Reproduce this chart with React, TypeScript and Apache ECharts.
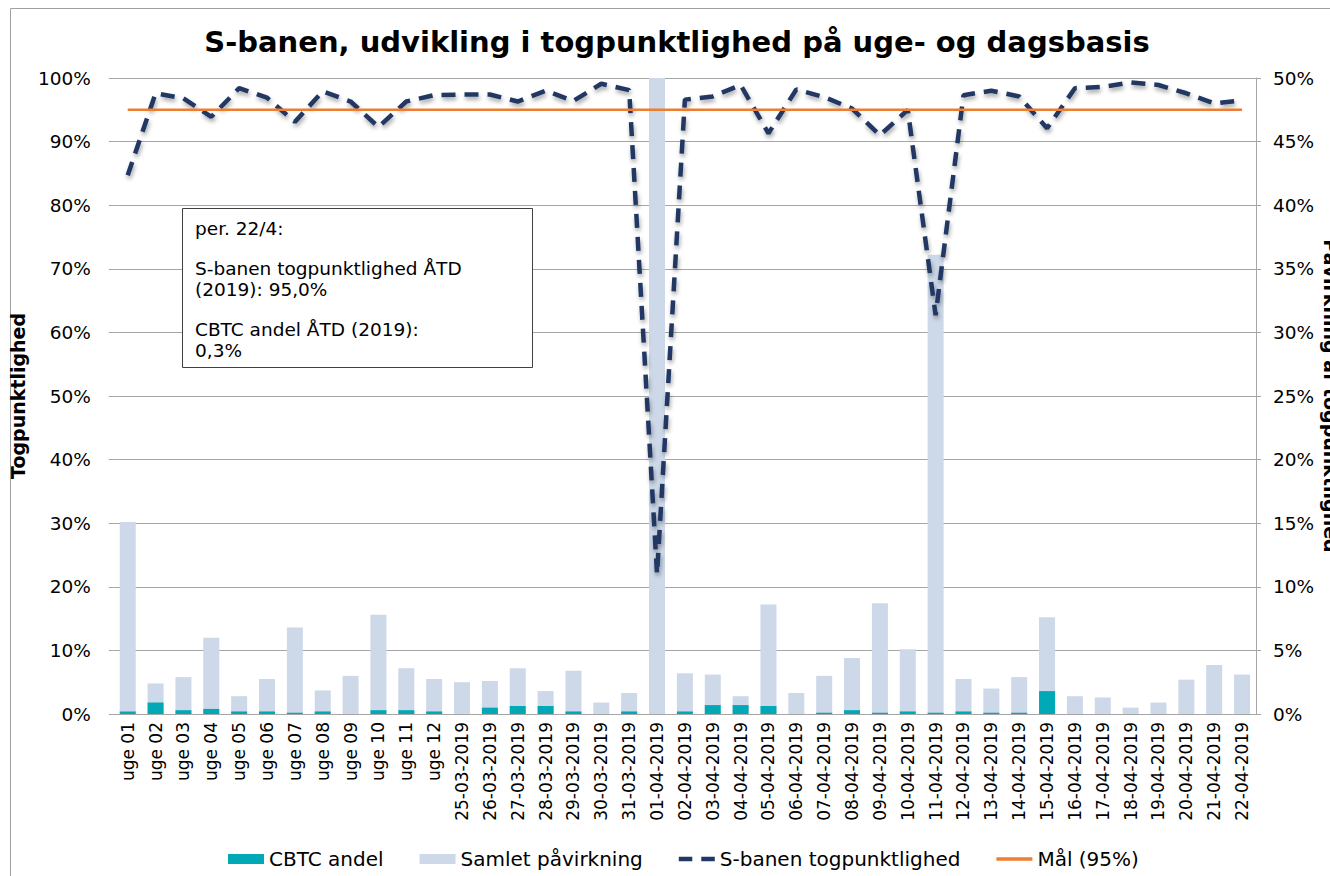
import React, { useEffect, useRef } from "react";
import * as echarts from "echarts";

const categories = [
  "uge 01", "uge 02", "uge 03", "uge 04", "uge 05", "uge 06", "uge 07", "uge 08", "uge 09", "uge 10", "uge 11", "uge 12",
  "25-03-2019", "26-03-2019", "27-03-2019", "28-03-2019", "29-03-2019", "30-03-2019", "31-03-2019",
  "01-04-2019", "02-04-2019", "03-04-2019", "04-04-2019", "05-04-2019", "06-04-2019", "07-04-2019", "08-04-2019",
  "09-04-2019", "10-04-2019", "11-04-2019", "12-04-2019", "13-04-2019", "14-04-2019", "15-04-2019", "16-04-2019",
  "17-04-2019", "18-04-2019", "19-04-2019", "20-04-2019", "21-04-2019", "22-04-2019",
];

// right axis (Påvirkning af togpunktlighed), %
const samletPaavirkning = [
  15.1, 2.4, 2.9, 6.0, 1.4, 2.75, 6.8, 1.85, 3.0, 7.8, 3.6, 2.75,
  2.5, 2.6, 3.6, 1.8, 3.4, 0.9, 1.65,
  50, 3.2, 3.1, 1.4, 8.6, 1.65, 3.0, 4.4, 8.7, 5.1, 36.1, 2.75, 2.0, 2.9, 7.6, 1.4, 1.3, 0.5, 0.9, 2.7, 3.85, 3.1,
];

const cbtcAndel = [
  0.2, 0.9, 0.3, 0.4, 0.2, 0.2, 0.1, 0.2, 0, 0.3, 0.3, 0.2,
  0, 0.5, 0.63, 0.63, 0.2, 0, 0.2,
  0, 0.2, 0.7, 0.7, 0.63, 0, 0.1, 0.3, 0.1, 0.2, 0.1, 0.2, 0.1, 0.1, 1.8, 0, 0, 0, 0, 0, 0, 0,
];

// left axis (Togpunktlighed), %
const togpunktlighed = [
  84.7, 97.6, 96.8, 93.9, 98.4, 96.9, 93.1, 97.9, 96.3, 92.3, 96.3, 97.3,
  97.4, 97.4, 96.3, 98.0, 96.4, 99.1, 98.1,
  22.0, 96.6, 97.1, 98.9, 91.3, 98.2, 97.0, 95.2, 91.0, 95.0, 62.7, 97.3, 98.0, 97.1, 92.1, 98.4, 98.6, 99.3, 98.9,
  97.6, 96.0, 96.5,
];

const maal = categories.map(() => 95);

const boxLines = [
  "per. 22/4:",
  "",
  "S-banen togpunktlighed ÅTD",
  "(2019): 95,0%",
  "",
  "CBTC andel ÅTD (2019):",
  "0,3%",
];

const FONT = "DejaVu Sans";

export default function App() {
  const ref = useRef<HTMLDivElement>(null);

  useEffect(() => {
    document.body.style.margin = "0";
    const chart = echarts.init(ref.current!, null, { renderer: "svg" });
    const grey = "#A6A6A6";
    const option: any = {
      animation: false,
      backgroundColor: "#fff",
      textStyle: { fontFamily: FONT, color: "#000" },
      grid: { left: 98, right: 74, top: 78, bottom: 162, containLabel: false },
      legend: {
        left: 223,
        top: 844,
        itemWidth: 36,
        itemHeight: 10,
        itemGap: 36,
        symbolKeepAspect: true,
        textStyle: { fontFamily: FONT, fontSize: 20, color: "#000" },
        data: [
          { name: "CBTC andel", icon: "rect" },
          { name: "Samlet påvirkning", icon: "rect" },
          { name: "S-banen togpunktlighed", icon: "path://M0,0h12v4h-12z M20,0h12v4h-12z" },
          { name: "Mål (95%)", icon: "path://M0,0h32v3h-32z" },
        ],
      },
      xAxis: {
        type: "category",
        data: categories,
        boundaryGap: true,
        axisLine: { onZero: false, lineStyle: { color: grey, width: 1 } },
        axisTick: { show: false },
        axisLabel: { rotate: 90, fontSize: 17, color: "#000", margin: 8, interval: 0, fontFamily: FONT },
      },
      yAxis: [
        {
          type: "value",
          min: 0,
          max: 100,
          interval: 10,
          name: "Togpunktlighed",
          nameLocation: "middle",
          nameRotate: 90,
          nameGap: 73,
          nameTextStyle: { fontFamily: FONT, fontSize: 19, fontWeight: "bold", color: "#000" },
          axisLine: { show: false },
          axisTick: { show: true, length: 5, lineStyle: { color: grey } },
          axisLabel: { formatter: "{value}%", fontSize: 18.5, color: "#000", margin: 23, fontFamily: FONT },
          splitLine: { lineStyle: { color: grey, width: 1 } },
        },
        {
          type: "value",
          min: 0,
          max: 50,
          interval: 5,
          position: "right",
          axisLine: { show: true, lineStyle: { color: grey, width: 1 } },
          axisTick: { show: true, length: 5, lineStyle: { color: grey } },
          axisLabel: { formatter: "{value}%", fontSize: 18.5, color: "#000", margin: 17, fontFamily: FONT },
          splitLine: { show: false },
        },
      ],
      series: [
        {
          name: "Samlet påvirkning",
          type: "bar",
          yAxisIndex: 1,
          data: samletPaavirkning,
          barWidth: 16,
          barGap: "-100%",
          itemStyle: { color: "#CDD8E8" },
          z: 2,
        },
        {
          name: "CBTC andel",
          type: "bar",
          yAxisIndex: 1,
          data: cbtcAndel,
          barWidth: 16,
          barGap: "-100%",
          itemStyle: { color: "#00A9B5" },
          z: 3,
        },
        {
          name: "S-banen togpunktlighed",
          type: "line",
          yAxisIndex: 0,
          data: togpunktlighed,
          symbol: "none",
          showSymbol: false,
          lineStyle: {
            color: "#203864",
            width: 4.5,
            type: [14, 9],
            cap: "butt",
            shadowColor: "rgba(0,0,0,0.35)",
            shadowBlur: 4,
            shadowOffsetX: 1,
            shadowOffsetY: 3,
          },
          itemStyle: { color: "#203864" },
          z: 4,
        },
        {
          name: "Mål (95%)",
          type: "line",
          yAxisIndex: 0,
          data: maal,
          symbol: "none",
          showSymbol: false,
          lineStyle: { color: "#ED7D31", width: 2.5 },
          itemStyle: { color: "#ED7D31" },
          z: 5,
        },
      ],
      graphic: [
        {
          type: "rect",
          shape: { x: 10.5, y: 8.5, width: 1400, height: 1000 },
          style: { fill: "none", stroke: "#A0A0A0", lineWidth: 1 },
          silent: true,
          z: -10,
        },
        {
          type: "text",
          x: 677,
          y: 42,
          style: {
            text: "S-banen, udvikling i togpunktlighed på uge- og dagsbasis",
            font: `bold 29px '${FONT}'`,
            fill: "#000",
            textAlign: "center",
            textVerticalAlign: "middle",
          },
        },
        {
          type: "text",
          x: 1331,
          y: 396,
          rotation: -Math.PI / 2,
          style: {
            text: "Påvirkning af togpunktlighed",
            font: `bold 19px '${FONT}'`,
            fill: "#000",
            textAlign: "center",
            textVerticalAlign: "middle",
          },
        },
        {
          type: "rect",
          z: 100,
          shape: { x: 182.5, y: 208.5, width: 350, height: 159 },
          style: { fill: "#fff", stroke: "#404040", lineWidth: 1 },
        },
        {
          type: "text",
          z: 101,
          x: 195,
          y: 217.8,
          style: {
            text: boxLines.join("\n"),
            font: `18.5px '${FONT}'`,
            lineHeight: 20.4,
            fill: "#000",
            textAlign: "left",
            textVerticalAlign: "top",
          },
        },
      ],
    };
    chart.setOption(option);
    return () => chart.dispose();
  }, []);

  return <div ref={ref} style={{ width: 1330, height: 876 }} />;
}
